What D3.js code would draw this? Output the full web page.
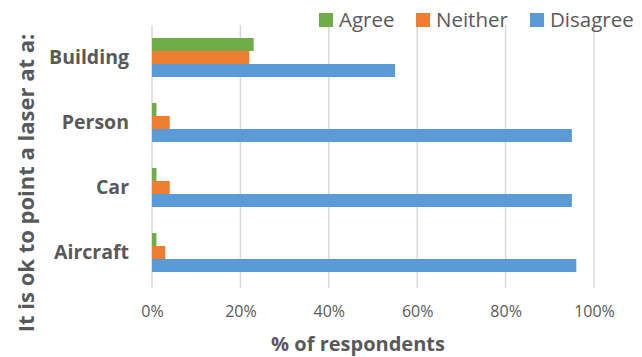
<!DOCTYPE html>
<html>
<head>
<meta charset="utf-8">
<script src="https://cdn.jsdelivr.net/npm/d3@7"></script>
<style>
  html, body { margin: 0; padding: 0; background: #fff; }
  svg { display: block; font-family: "Open Sans", "Liberation Sans", sans-serif; }
</style>
</head>
<body>
<svg id="chart" width="642" height="357"></svg>
<script>
// Survey responses: share of respondents per target
const categories = ["Building", "Person", "Car", "Aircraft"];
const seriesNames = ["Agree", "Neither", "Disagree"];
const agree    = [23, 1, 1, 1];
const neither  = [22, 4, 4, 3];
const disagree = [55, 95, 95, 96];
const xTicks = [0, 20, 40, 60, 80, 100];
const colors = ["#70ad47", "#ed7d31", "#5b9bd5"];

const values = [agree, neither, disagree];
const rows = categories.map((c, i) => ({
  category: c,
  series: seriesNames.map((s, j) => ({ name: s, value: values[j][i] }))
}));

const svg = d3.select("#chart");
const margin = { top: 25, left: 152, right: 48, bottom: 72 };
const W = 642, H = 357;
const plotH = H - margin.top - margin.bottom;
const textColor = "#595959";

const x = d3.scaleLinear().domain([0, 100]).range([0, 442]);
const y = d3.scaleBand().domain(categories).range([0, plotH]).paddingInner(0.4).paddingOuter(0.2);
const ySub = d3.scaleBand().domain(seriesNames).range([0, y.bandwidth()]);

const g = svg.append("g").attr("transform", `translate(${margin.left},${margin.top})`);

// vertical gridlines
g.append("g").selectAll("line").data(xTicks).join("line")
  .attr("x1", d => x(d)).attr("x2", d => x(d))
  .attr("y1", 0).attr("y2", plotH + 3)
  .attr("stroke", "#d9d9d9").attr("stroke-width", 1.5);

// bars
const groups = g.append("g").selectAll("g").data(rows).join("g")
  .attr("transform", d => `translate(0,${y(d.category)})`);
groups.selectAll("rect").data(d => d.series).join("rect")
  .attr("x", 0)
  .attr("y", d => ySub(d.name))
  .attr("width", d => x(d.value))
  .attr("height", ySub.bandwidth())
  .attr("fill", (d, i) => colors[i]);

// x axis
const xAxis = g.append("g").attr("transform", `translate(0,${plotH})`)
  .call(d3.axisBottom(x).tickValues(xTicks).tickFormat(d => d + "%").tickSize(0).tickPadding(21));
xAxis.select(".domain").remove();
xAxis.selectAll("text").attr("fill", textColor).style("font-size", "16px")
  .style("font-family", "Open Sans, sans-serif");

// y axis (category labels)
const yAxis = g.append("g")
  .call(d3.axisLeft(y).tickSize(0).tickPadding(23));
yAxis.select(".domain").remove();
yAxis.selectAll("text").attr("fill", textColor).style("font-size", "19.5px")
  .style("font-weight", "bold").style("font-family", "Open Sans, sans-serif");

// axis titles
svg.append("text")
  .attr("x", 358).attr("y", 351)
  .attr("text-anchor", "middle")
  .attr("fill", textColor)
  .style("font-size", "20px").style("font-weight", "bold")
  .text("% of respondents");

svg.append("text")
  .attr("transform", "translate(34,183) rotate(-90)")
  .attr("text-anchor", "middle")
  .attr("fill", textColor)
  .style("font-size", "22px").style("font-weight", "bold")
  .text("It is ok to point a laser at a:");

// legend
const legendX = [319, 416, 530];
const legend = svg.append("g").selectAll("g").data(seriesNames).join("g")
  .attr("transform", (d, i) => `translate(${legendX[i]},13)`);
legend.append("rect").attr("width", 14).attr("height", 14).attr("fill", (d, i) => colors[i]);
legend.append("text").attr("x", 20).attr("y", 14)
  .attr("fill", textColor).style("font-size", "20.5px")
  .text(d => d);
</script>
</body>
</html>
